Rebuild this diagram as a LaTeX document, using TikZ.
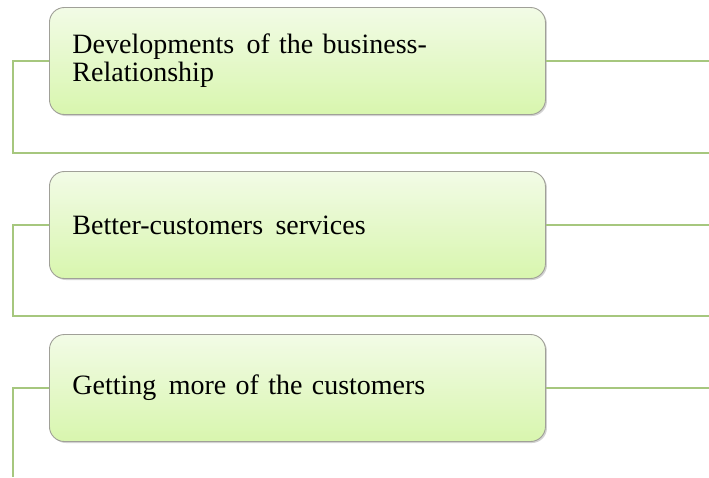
\documentclass[tikz,border=0pt]{standalone}
\usepackage{fontspec}
\setmainfont{Liberation Serif}
\usetikzlibrary{shadows}
\definecolor{linkgreen}{HTML}{A6C77E}
\definecolor{boxtop}{HTML}{F2FBE6}
\definecolor{boxbottom}{HTML}{D8F6AE}
\definecolor{boxrim}{HTML}{A0A098}
\newcommand{\wsp}{\ \hspace{3pt}}
\tikzset{
  itembox/.style={draw=boxrim, line width=0.9pt, rounded corners=15pt,
    top color=boxtop, bottom color=boxbottom,
    minimum width=496pt, minimum height=107pt, text width=450pt,
    inner xsep=23pt, align=left, anchor=west,
    font=\fontsize{28}{28}\selectfont,
    drop shadow={shadow xshift=1.5pt, shadow yshift=-1.5pt, opacity=0.35, fill=gray}},
  link/.style={draw=linkgreen, line width=1.5pt}
}
\begin{document}
\begin{tikzpicture}[x=1pt, y=-1pt]
\useasboundingbox[fill=white] (0,0) rectangle (709,477);

% item boxes
\node[itembox] (b1) at (49,61) {Developments\wsp of the business-\\Relationship};
\node[itembox] (b2) at (49,225) {Better-customers\wsp services};
\node[itembox] (b3) at (49,388) {Getting\wsp more of the customers};

% bracket corners and free ends
\coordinate (l1) at (13,61);
\coordinate (d1) at (13,153);
\coordinate (e1) at (709,153);
\coordinate (r1) at (709,61);
\coordinate (l2) at (13,225);
\coordinate (d2) at (13,316);
\coordinate (e2) at (709,316);
\coordinate (r2) at (709,225);
\coordinate (l3) at (13,388);
\coordinate (d3) at (13,477);
\coordinate (r3) at (709,388);

% connectors
\draw[link] (b1.west) -- (l1) -- (d1) -- (e1);
\draw[link] (b1.east) -- (r1);
\draw[link] (b2.west) -- (l2) -- (d2) -- (e2);
\draw[link] (b2.east) -- (r2);
\draw[link] (b3.west) -- (l3) -- (d3);
\draw[link] (b3.east) -- (r3);
\end{tikzpicture}
\end{document}
